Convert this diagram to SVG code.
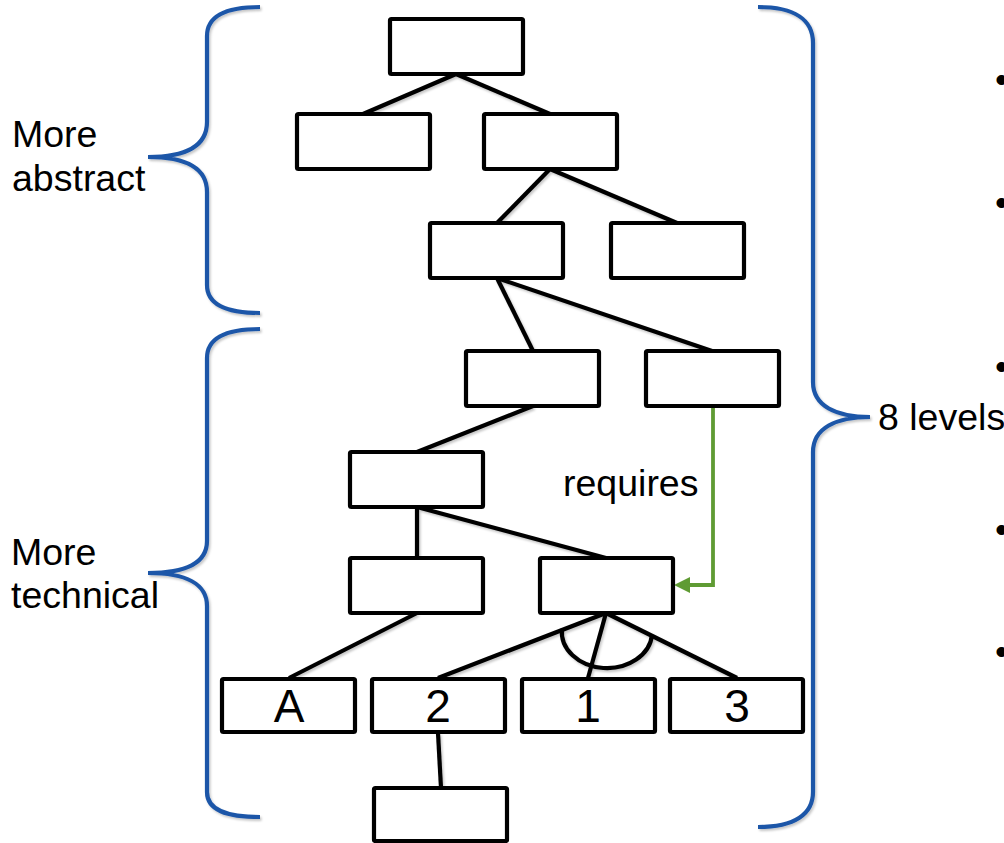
<svg xmlns="http://www.w3.org/2000/svg" width="1004" height="843" viewBox="0 0 1004 843">
  <style>
    .box { fill: #ffffff; stroke: #000000; stroke-width: 4.2; }
    .edge { fill: none; stroke: #000000; stroke-width: 4.2; stroke-linecap: butt; }
    .brace { fill: none; stroke: #1f57a8; stroke-width: 4.2; stroke-linecap: butt; }
    .req { fill: none; stroke: #5f9b33; stroke-width: 3.8; }
    .lbl { font-family: "Liberation Sans", Arial, sans-serif; font-size: 37.5px; fill: #000000; }
    .val { font-family: "Liberation Sans", Arial, sans-serif; font-size: 46px; fill: #000000; text-anchor: middle; }
  </style>
  <defs>
    <filter id="soft" x="-10%" y="-10%" width="130%" height="130%">
      <feDropShadow dx="1.5" dy="2" stdDeviation="1.2" flood-color="#000000" flood-opacity="0.22"/>
    </filter>
    <marker id="arrowGreen" viewBox="0 0 16 16" refX="0" refY="8" markerWidth="16" markerHeight="16" markerUnits="userSpaceOnUse" orient="auto">
      <path d="M16,8 L0,0 L0,16 Z" fill="#5f9b33"/>
    </marker>
  </defs>

  <rect width="1004" height="843" fill="#ffffff"/>

  <!-- braces grouping the levels -->
  <g id="braces" filter="url(#soft)">
    <path class="brace" d="M 260 7 C 228 7, 207 15, 207 36 L 207 122 C 207 146, 186 157, 148 157 C 186 157, 207 168, 207 192 L 207 285 C 207 304, 226 313, 260 313"/>
    <path class="brace" d="M 260 329 C 228 329, 207 337, 207 358 L 207 541 C 207 563, 186 573, 148 573 C 186 573, 207 584, 207 606 L 207 792 C 207 810, 226 817, 260 817"/>
    <path class="brace" d="M 758 7 C 795 7, 813 20, 813 43 L 813 382 C 813 406, 836 417, 870 417 C 836 417, 813 428, 813 452 L 813 792 C 813 814, 795 827, 758 827"/>
  </g>

  <!-- side labels -->
  <g id="labels">
    <text class="lbl" x="12" y="147">More</text>
    <text class="lbl" x="12" y="191">abstract</text>
    <text class="lbl" x="11" y="565">More</text>
    <text class="lbl" x="11" y="608">technical</text>
    <text class="lbl" x="878" y="430">8 levels</text>
    <text class="lbl" x="563" y="496">requires</text>
    <text class="lbl" x="995" y="92">•</text>
    <text class="lbl" x="995" y="215">•</text>
    <text class="lbl" x="995" y="379">•</text>
    <text class="lbl" x="995" y="542">•</text>
    <text class="lbl" x="995" y="664">•</text>
  </g>

  <!-- tree edges -->
  <g id="connectors">
    <g filter="url(#soft)">
      <line class="edge" x1="456" y1="74" x2="363" y2="114"/>
      <line class="edge" x1="456" y1="74" x2="550" y2="114"/>
      <line class="edge" x1="550" y1="169" x2="497" y2="223"/>
      <line class="edge" x1="550" y1="169" x2="677" y2="223"/>
      <line class="edge" x1="497" y1="278" x2="533" y2="351"/>
      <line class="edge" x1="497" y1="278" x2="712" y2="351"/>
      <line class="edge" x1="533" y1="406" x2="417" y2="452"/>
      <line class="edge" x1="417" y1="507" x2="417" y2="558"/>
      <line class="edge" x1="417" y1="507" x2="606" y2="558"/>
      <line class="edge" x1="417" y1="613" x2="289" y2="678"/>
      <line class="edge" x1="606" y1="613" x2="438" y2="678"/>
      <line class="edge" x1="606" y1="613" x2="588" y2="678"/>
      <line class="edge" x1="606" y1="613" x2="737" y2="678"/>
      <line class="edge" x1="438" y1="733" x2="441" y2="788"/>
      <!-- AND arc joining the ordered children -->
      <path class="edge" d="M 562 629 A 45 36 0 0 0 652 635"/>
    </g>
    <path class="req" d="M 713 406 L 713 585 L 690 585" marker-end="url(#arrowGreen)"/>
  </g>

  <!-- nodes -->
  <g id="n-root"><rect class="box" x="390" y="19" width="133" height="55" rx="1.5"/></g>
  <g id="n-2a"><rect class="box" x="297" y="114" width="133" height="55" rx="1.5"/></g>
  <g id="n-2b"><rect class="box" x="484" y="114" width="133" height="55" rx="1.5"/></g>
  <g id="n-3a"><rect class="box" x="430" y="223" width="133" height="55" rx="1.5"/></g>
  <g id="n-3b"><rect class="box" x="611" y="223" width="133" height="55" rx="1.5"/></g>
  <g id="n-4a"><rect class="box" x="466" y="351" width="133" height="55" rx="1.5"/></g>
  <g id="n-4b"><rect class="box" x="646" y="351" width="133" height="55" rx="1.5"/></g>
  <g id="n-5"><rect class="box" x="350" y="452" width="133" height="55" rx="1.5"/></g>
  <g id="n-6a"><rect class="box" x="350" y="558" width="133" height="55" rx="1.5"/></g>
  <g id="n-6b"><rect class="box" x="540" y="558" width="133" height="55" rx="1.5"/></g>
  <g id="n-A">
    <rect class="box" x="222" y="679" width="133" height="53" rx="1.5"/>
    <text class="val" x="289" y="722">A</text>
  </g>
  <g id="n-2">
    <rect class="box" x="372" y="679" width="133" height="53" rx="1.5"/>
    <text class="val" x="438" y="722">2</text>
  </g>
  <g id="n-1">
    <rect class="box" x="522" y="679" width="133" height="53" rx="1.5"/>
    <text class="val" x="588" y="722">1</text>
  </g>
  <g id="n-3">
    <rect class="box" x="670" y="679" width="133" height="53" rx="1.5"/>
    <text class="val" x="737" y="722">3</text>
  </g>
  <g id="n-leaf"><rect class="box" x="374" y="788" width="133" height="53" rx="1.5"/></g>
</svg>
